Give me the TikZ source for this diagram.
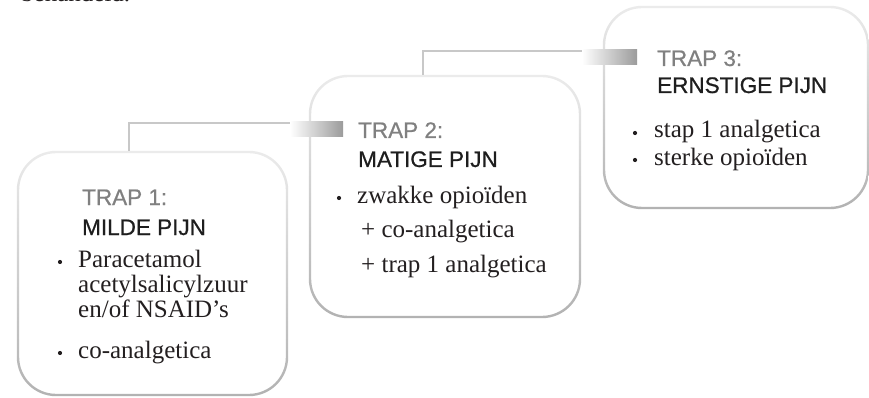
\documentclass[tikz,border=0pt]{standalone}
\usepackage{fontspec}
\newfontfamily\headfont[FakeBold=0.7]{Liberation Sans}
\newfontfamily\bodyfont{Liberation Serif}
\usetikzlibrary{calc}
\definecolor{trapgray}{RGB}{128,128,128}
\definecolor{headdark}{RGB}{30,30,30}
\definecolor{bodytext}{RGB}{35,31,32}
\definecolor{linegray}{RGB}{200,200,200}
\definecolor{framedark}{RGB}{178,178,178}
\definecolor{framelight}{RGB}{235,235,235}
\definecolor{bardark}{RGB}{155,155,155}
\newcommand\stepframe[4]{%
  \fill[white,rounded corners=38pt] (#1,#2) rectangle (#3,#4);
  \shade[even odd rule,shading angle=-45,top color=framelight,bottom color=framedark]
    [rounded corners=39.2pt] ($(#1,#2)+(-1.2,-1.2)$) rectangle ($(#3,#4)+(1.2,1.2)$)
    [rounded corners=36.8pt] ($(#1,#2)+(1.2,1.2)$) rectangle ($(#3,#4)+(-1.2,-1.2)$);
}
\begin{document}
\begin{tikzpicture}[x=1pt,y=-1pt,
  trapstyle/.style={anchor=base west,inner sep=0pt,font=\headfont\fontsize{22.5}{24}\selectfont,text=trapgray},
  painstyle/.style={anchor=base west,inner sep=0pt,font=\headfont\fontsize{22.5}{24}\selectfont,text=headdark},
  bodystyle/.style={anchor=base west,inner sep=0pt,font=\bodyfont\fontsize{25}{28}\selectfont,text=bodytext},
  bulletstyle/.style={circle,fill=bodytext,inner sep=0pt,minimum size=4.2pt},
  connline/.style={draw=linegray,line width=2pt},
  connbar/.style={left color=white,right color=bardark}
]
\useasboundingbox (0,0) rectangle (869,398);
\clip (0,0) rectangle (869,398);

% cut-off text at the top
\node[bodystyle] (prev) at (21,2) {behandeld.};

% frames
\stepframe{18}{152}{287}{395}
\stepframe{310}{76}{580}{317}
\stepframe{604}{7}{868}{208}

% anchor coordinates of the connectors
\coordinate (b1top) at (129,151);
\coordinate (b1knee) at (129,123);
\coordinate (b2top) at (423,75);
\coordinate (b2knee) at (423,51);
\coordinate (bar1s) at (290,122);
\coordinate (bar1e) at (343,137);
\coordinate (bar2s) at (582,50);
\coordinate (bar2e) at (637,65);

% connectors
\draw[connline] (b1top) -- (b1knee) -- (bar1s |- b1knee) -- ++(10,0);
\shade[connbar] (bar1s) rectangle (bar1e);
\draw[connline] (b2top) -- (b2knee) -- (bar2s |- b2knee) -- ++(10,0);
\shade[connbar] (bar2s) rectangle (bar2e);

% step 1
\node[trapstyle] (t1) at (82,205) {TRAP 1:};
\node[painstyle] (p1) at (82,235) {MILDE PIJN};
\node[bulletstyle] (u1a) at (60,262) {};
\node[bodystyle] (l1a) at (78,267) {Paracetamol};
\node[bodystyle] (l1b) at (78,292) {acetylsalicylzuur};
\node[bodystyle] (l1c) at (78,317) {en/of NSAID’s};
\node[bulletstyle] (u1b) at (60,353) {};
\node[bodystyle] (l1d) at (78,358) {co-analgetica};

% step 2
\node[trapstyle] (t2) at (358,138) {TRAP 2:};
\node[painstyle] (p2) at (358,167) {MATIGE PIJN};
\node[bulletstyle] (u2a) at (339,198) {};
\node[bodystyle] (l2a) at (357,203) {zwakke opioïden};
\node[bodystyle] (l2b) at (361,237) {+ co-analgetica};
\node[bodystyle] (l2c) at (361,272) {+ trap 1 analgetica};

% step 3
\node[trapstyle] (t3) at (657,66) {TRAP 3:};
\node[painstyle] (p3) at (657,93) {ERNSTIGE PIJN};
\node[bulletstyle] (u3a) at (635,133) {};
\node[bodystyle] (l3a) at (654,138) {stap 1 analgetica};
\node[bulletstyle] (u3b) at (635,160) {};
\node[bodystyle] (l3b) at (654,165) {sterke opioïden};
\end{tikzpicture}
\end{document}
